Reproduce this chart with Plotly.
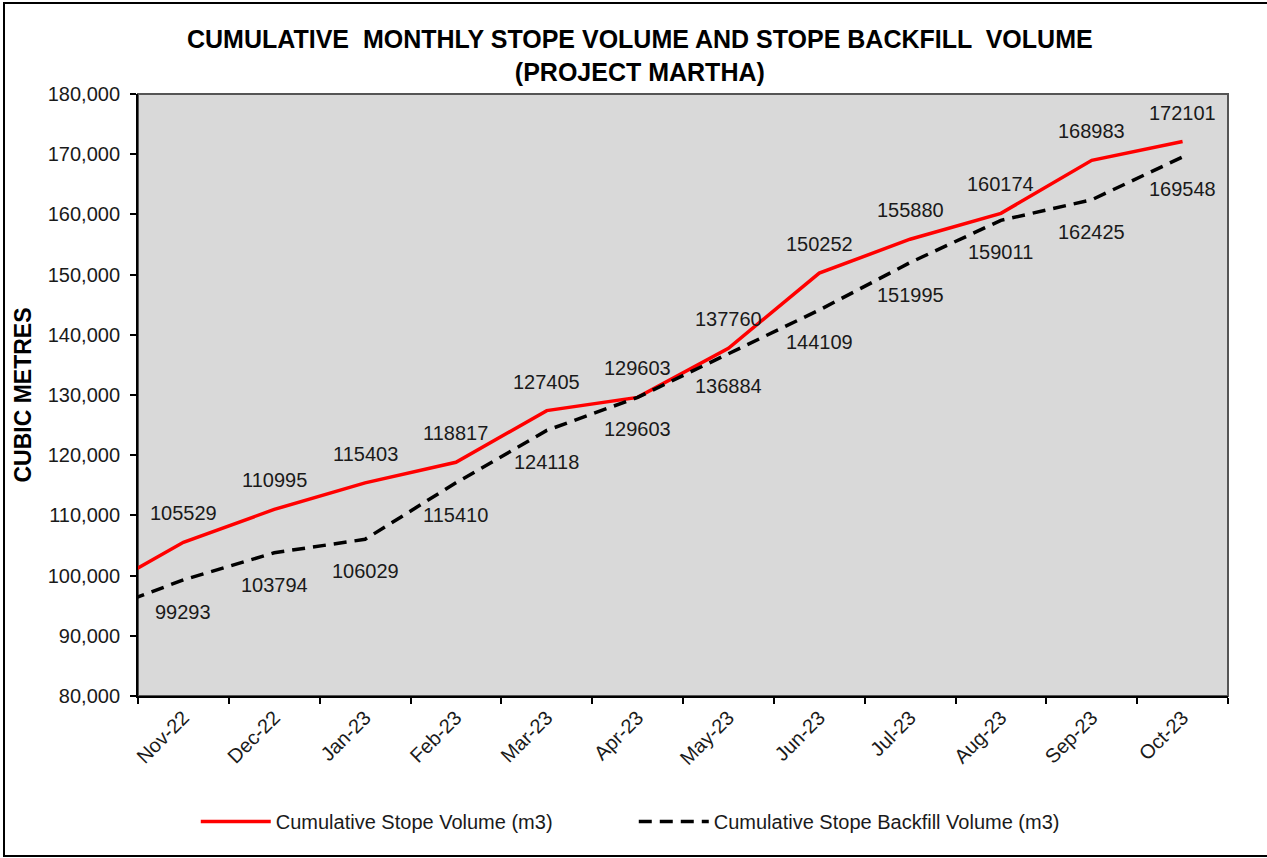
import plotly.graph_objects as go

"""DATA"""
# first month (Oct-22) sits just off the left edge of the axis, only its line segment shows
months = ["Oct-22", "Nov-22", "Dec-22", "Jan-23", "Feb-23", "Mar-23", "Apr-23",
          "May-23", "Jun-23", "Jul-23", "Aug-23", "Sep-23", "Oct-23"]
stope_volume = [97000, 105529, 110995, 115403, 118817, 127405, 129603,
                137760, 150252, 155880, 160174, 168983, 172101]
backfill_volume = [93600, 99293, 103794, 106029, 115410, 124118, 129603,
                   136884, 144109, 151995, 159011, 162425, 169548]
y_ticks = list(range(80000, 180001, 10000))

FONT = "Liberation Sans, Arial, sans-serif"

"""FIGURE"""
fig = go.Figure()
fig.add_trace(go.Scatter(x=months, y=stope_volume, mode="lines",
                         name="Cumulative Stope Volume (m3)",
                         line=dict(color="#ff0000", width=3.5)))
fig.add_trace(go.Scatter(x=months, y=backfill_volume, mode="lines",
                         name="Cumulative Stope Backfill Volume (m3)",
                         line=dict(color="#000000", width=3.5, dash="13px,8px")))

# data labels: red above, black below (skip the hidden first month)
for m, v in zip(months[1:], stope_volume[1:]):
    fig.add_annotation(x=m, y=v, text=str(v), showarrow=False, yshift=29,
                       font=dict(family=FONT, size=20, color="#1a1a1a"))
for m, v in zip(months[1:], backfill_volume[1:]):
    fig.add_annotation(x=m, y=v, text=str(v), showarrow=False, yshift=-32,
                       font=dict(family=FONT, size=20, color="#1a1a1a"))

# outer chart border
fig.add_shape(type="rect", xref="paper", yref="paper",
              x0=(4 - 138) / 1090, x1=(1275 - 138) / 1090,
              y0=(696 - 856) / 602, y1=(696 - 3) / 602,
              line=dict(color="#000000", width=2), layer="below")
# plot area frame
fig.add_shape(type="rect", xref="paper", yref="paper", x0=0, x1=1, y0=0, y1=1,
              line=dict(color="#555555", width=2), layer="below")

fig.update_layout(
    width=1267, height=858,
    margin=dict(l=138, r=39, t=94, b=162, autoexpand=False),
    paper_bgcolor="white", plot_bgcolor="#d9d9d9",
    font=dict(family=FONT, size=20, color="#1a1a1a"),
    title=dict(text="<b>CUMULATIVE  MONTHLY STOPE VOLUME AND STOPE BACKFILL  VOLUME<br>(PROJECT MARTHA)</b>",
               x=0.505, xanchor="center", y=0.944, yanchor="top",
               font=dict(family=FONT, size=25, color="#000000")),
    showlegend=True,
    legend=dict(orientation="h", x=0.053, xanchor="left", y=-0.176, yanchor="top",
                font=dict(family=FONT, size=20, color="#1a1a1a"),
                bgcolor="rgba(0,0,0,0)", itemwidth=70,
                entrywidth=353, entrywidthmode="pixels"),
)

fig.update_xaxes(type="category", categoryorder="array", categoryarray=months,
                 range=[0.5, 12.5], tickson="boundaries", ticks="outside",
                 ticklen=6, tickwidth=2, tickcolor="black", tickangle=-45,
                 showline=True, linecolor="black", linewidth=2,
                 showgrid=False, zeroline=False, automargin=False,
                 tickfont=dict(family=FONT, size=20, color="#1a1a1a"))
fig.update_yaxes(range=[80000, 180000], tickvals=y_ticks, tickformat=",d",
                 ticks="outside", ticklen=6, tickwidth=2, tickcolor="black",
                 ticklabelstandoff=6,
                 showline=True, linecolor="black", linewidth=2,
                 showgrid=False, zeroline=False, automargin=False,
                 title=dict(text="<b>CUBIC METRES</b>", standoff=10,
                            font=dict(family=FONT, size=23, color="#000000")),
                 tickfont=dict(family=FONT, size=20, color="#1a1a1a"))

# page body has a default 8px margin, drop it so the figure sits at the window corner
fig.write_html("out.html", config={"displayModeBar": False},
               post_script="document.body.style.margin='0';")
